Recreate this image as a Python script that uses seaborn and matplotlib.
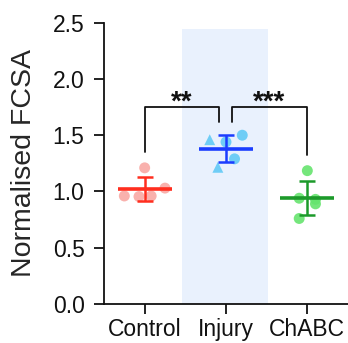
import numpy as np
import pandas as pd
import matplotlib
matplotlib.use("Agg")
import matplotlib.pyplot as plt
import seaborn as sns

# Normalised FCSA per animal
groups = ["Control", "Injury", "ChABC"]
control_vals = [1.21, 0.96, 0.955, 0.96, 1.03]
injury_vals = [1.46, 1.50, 1.44, 1.29, 1.215]
chabc_vals = [1.185, 0.94, 0.93, 0.89, 0.76]
injury_shapes = ["^", "o", "o", "o", "^"]
y_ticks = [0.0, 0.5, 1.0, 1.5, 2.0, 2.5]
sig_labels = ["**", "***"]

# horizontal spread of the dots around each category centre
spread = {
    "Control": [0.0, -0.25, -0.07, 0.08, 0.25],
    "Injury": [-0.20, 0.20, 0.0, 0.105, -0.10],
    "ChABC": [0.0, -0.10, 0.10, 0.10, -0.10],
}

dot_colors = {"Control": "#f9a9a4", "Injury": "#62caf6", "ChABC": "#66e46e"}
line_colors = {"Control": "#ff2e1f", "Injury": "#1b3dff", "ChABC": "#1c9a2a"}

rows = []
for g, vals, shapes in [
    ("Control", control_vals, ["o"] * len(control_vals)),
    ("Injury", injury_vals, injury_shapes),
    ("ChABC", chabc_vals, ["o"] * len(chabc_vals)),
]:
    for v, off, s in zip(vals, spread[g], shapes):
        rows.append({"group": g, "value": v, "x": groups.index(g) + off, "shape": s})
df = pd.DataFrame(rows)

sns.set_theme(style="ticks")
plt.rcParams["font.family"] = ["Liberation Sans", "DejaVu Sans"]

fig = plt.figure(figsize=(3.48, 3.43), dpi=100)
ax = fig.add_axes([104 / 348, 39 / 343, 244 / 348, 281.3 / 343])

# shaded injury column
ax.fill_between([0.465, 1.52], 0, 2.44, color="#e9f1fd", lw=0, zorder=0)

sns.scatterplot(
    data=df, x="x", y="value", hue="group", palette=dot_colors,
    style="shape", markers={"o": "o", "^": "^"}, s=62, alpha=0.9,
    linewidth=0, legend=False, ax=ax, zorder=2,
)

stats = df.groupby("group", sort=False)["value"].agg(["mean", "std"])
for i, g in enumerate(groups):
    m, sd = stats.loc[g, "mean"], stats.loc[g, "std"]
    c = line_colors[g]
    ax.hlines(m, i - 0.33, i + 0.33, color=c, lw=2.6, zorder=3)
    ax.errorbar(i, m, yerr=sd, color=c, lw=1.8, capsize=5.5, capthick=1.8, zorder=3)

# significance brackets
def bracket(x0, x1, y, y0, y1, label):
    ax.plot([x0, x0, x1, x1], [y0, y, y, y1], color="#111111", lw=1.3, zorder=4)
    ax.text((x0 + x1) / 2, y - 0.022, label, ha="center", va="baseline",
            fontsize=20, fontweight="bold", color="#111111")

bracket(0.0, 0.92, 1.75, 1.35, 1.615, sig_labels[0])
bracket(1.07, 2.0, 1.75, 1.615, 1.32, sig_labels[1])

ax.set_xlim(-0.5, 2.5)
ax.set_ylim(0, 2.5)
ax.set_yticks(y_ticks)
ax.set_yticklabels([f"{t:.1f}" for t in y_ticks])
ax.set_xticks(range(len(groups)))
ax.set_xticklabels(groups)
ax.set_xlabel("")
ax.set_ylabel("Normalised FCSA", fontsize=20.5, labelpad=11)
ax.tick_params(axis="both", labelsize=16.5, width=1.3, length=7, color="#111111",
               labelcolor="#111111", pad=3)
ax.tick_params(axis="y", pad=7)
sns.despine(ax=ax)
for sp in ["left", "bottom"]:
    ax.spines[sp].set_linewidth(1.3)
    ax.spines[sp].set_color("#111111")

fig.savefig("out.png", dpi=100)
